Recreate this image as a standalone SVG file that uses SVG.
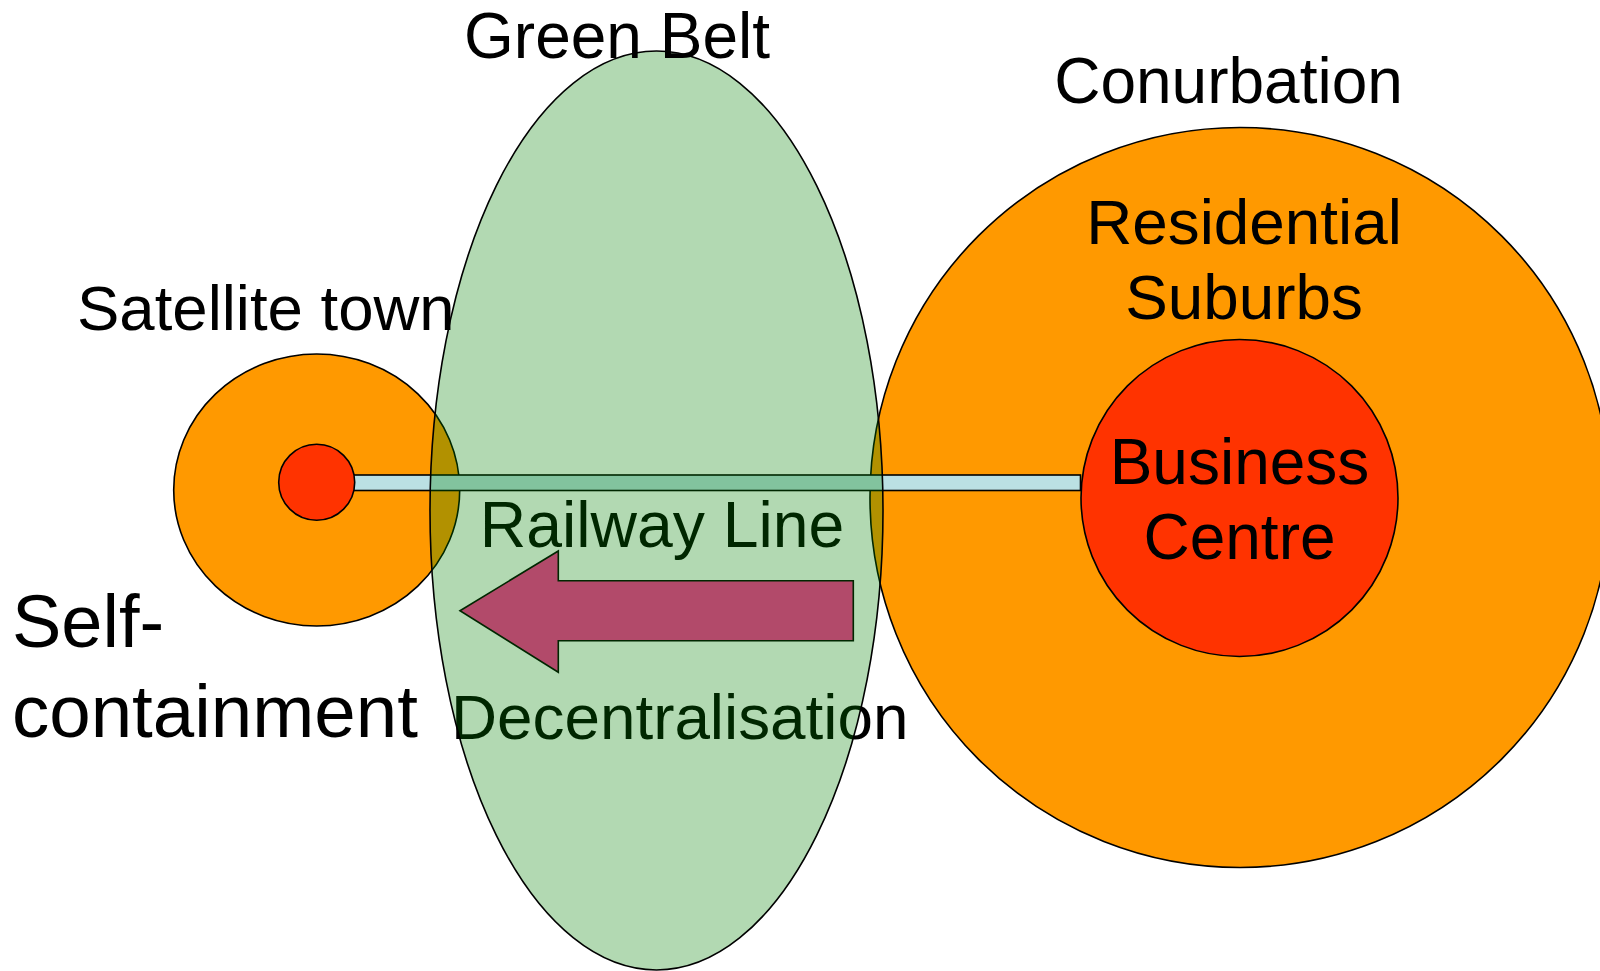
<svg xmlns="http://www.w3.org/2000/svg" width="1600" height="971" viewBox="0 0 1600 971">
<style>
.ln{stroke:#000;stroke-width:1.6}
.t{font-family:"Liberation Sans",Arial,sans-serif;fill:#000}
.orange{fill:#ff9900}
.red{fill:#ff3300}
</style>
<rect x="0" y="0" width="1600" height="971" fill="#fff"/>
<g id="satellite-town">
<ellipse class="orange ln" cx="316.7" cy="490" rx="143" ry="136"/>
</g>
<g id="conurbation">
<circle class="orange ln" cx="1240" cy="497.5" r="370"/>
</g>
<g id="business-centre">
<circle class="red ln" cx="1239.5" cy="498" r="158.5"/>
</g>
<g id="connectors">
<rect class="ln" x="345" y="475" width="735.5" height="15.5" fill="#bbe0e3"/>
<polygon id="decentralisation-arrow" class="ln" points="460,610.7 558.3,551 558.3,580.7 853.3,580.7 853.3,640.7 558.3,640.7 558.3,672.3" fill="#ff3399"/>
</g>
<g id="satellite-centre">
<circle class="red ln" cx="316.7" cy="482.3" r="38"/>
</g>
<g id="labels-under">
<text class="t" x="662" y="547" font-size="64.3" text-anchor="middle">Railway Line</text>
<text class="t" x="451" y="738.5" font-size="63.8">Decentralisation</text>
</g>
<g id="green-belt">
<ellipse cx="656.5" cy="510.5" rx="226.5" ry="459.5" fill="#008000" fill-opacity="0.3" stroke="#000" stroke-width="1.6"/>
</g>
<g id="labels">
<text class="t" x="617" y="57.7" font-size="64" text-anchor="middle">Green Belt</text>
<text class="t" x="1228.5" y="102.7" font-size="64" text-anchor="middle">Conurbation</text>
<text class="t" x="1244" y="244" font-size="63.8" text-anchor="middle">Residential</text>
<text class="t" x="1244" y="318.5" font-size="63.8" text-anchor="middle">Suburbs</text>
<text class="t" x="1239.5" y="484" font-size="64" text-anchor="middle">Business</text>
<text class="t" x="1239.5" y="559.3" font-size="64" text-anchor="middle">Centre</text>
<text class="t" x="77" y="330" font-size="63.5">Satellite town</text>
<text class="t" x="12" y="646.7" font-size="74">Self-</text>
<text class="t" x="12" y="736.7" font-size="74.5">containment</text>
</g>
</svg>
